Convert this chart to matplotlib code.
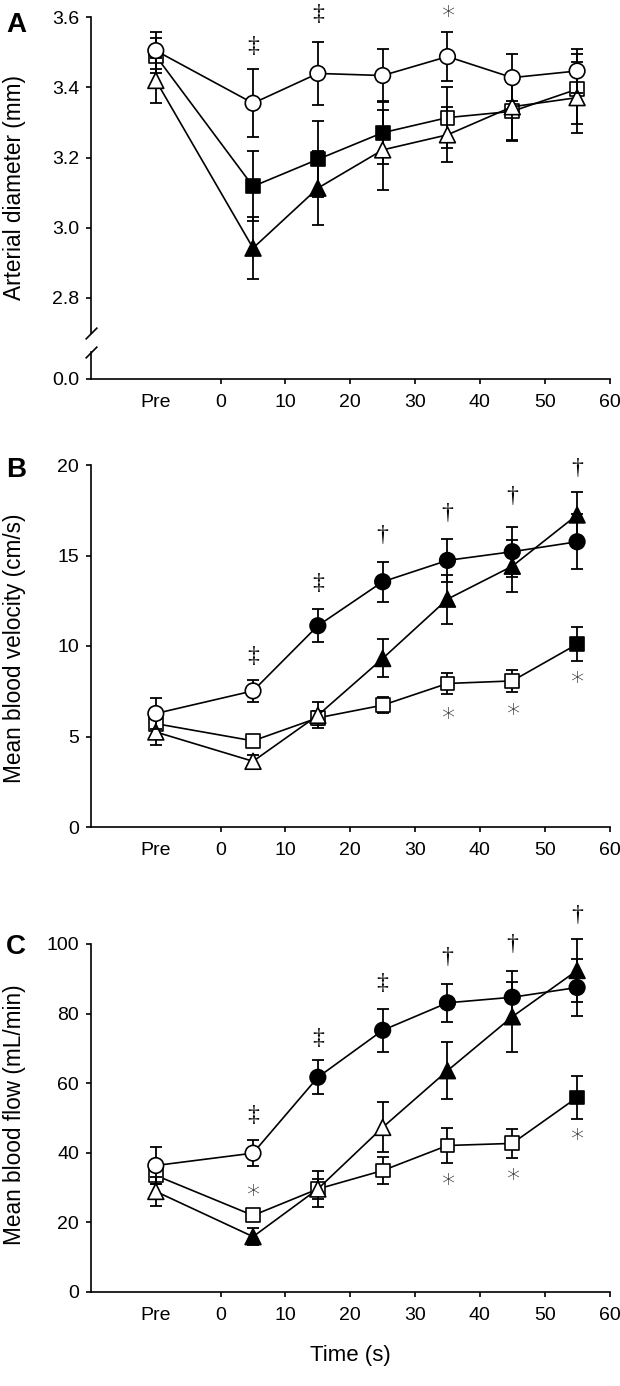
import matplotlib
matplotlib.use('Agg')
from matplotlib import pyplot as plt

plt.rcParams['font.family'] = ['Liberation Sans', 'DejaVu Sans']

# time points (Pre plotted at -10)
times = [-10, 5, 15, 25, 35, 45, 55]
tick_pos = [-10, 0, 10, 20, 30, 40, 50, 60]
tick_lab = ['Pre', '0', '10', '20', '30', '40', '50', '60']

# ---- A: arterial diameter (mm) ----
diam_circ = [3.505, 3.355, 3.44, 3.434, 3.488, 3.428, 3.447]
diam_circ_se = [0.052, 0.097, 0.09, 0.075, 0.07, 0.067, 0.063]
diam_circ_fill = [0, 0, 0, 0, 0, 0, 0]
diam_sq = [3.49, 3.118, 3.195, 3.271, 3.314, 3.332, 3.395]
diam_sq_se = [0.05, 0.1, 0.108, 0.09, 0.087, 0.085, 0.1]
diam_sq_fill = [0, 1, 1, 1, 0, 0, 0]
diam_tri = [3.42, 2.942, 3.113, 3.222, 3.265, 3.345, 3.371]
diam_tri_se = [0.065, 0.088, 0.105, 0.115, 0.078, 0.095, 0.102]
diam_tri_fill = [0, 1, 1, 0, 0, 0, 0]
diam_notes_x = [5, 15, 35]
diam_notes_y = [3.516, 3.607, 3.61]
diam_notes = ['‡', '‡', '*']

# ---- B: mean blood velocity (cm/s) ----
vel_circ = [6.27, 7.52, 11.12, 13.55, 14.73, 15.21, 15.76]
vel_circ_se = [0.86, 0.6, 0.9, 1.1, 1.2, 1.38, 1.53]
vel_circ_fill = [0, 0, 1, 1, 1, 1, 1]
vel_sq = [5.71, 4.76, 6.03, 6.73, 7.93, 8.07, 10.1]
vel_sq_se = [0.3, 0.2, 0.4, 0.45, 0.6, 0.6, 0.95]
vel_sq_fill = [0, 0, 0, 0, 0, 0, 1]
vel_tri = [5.25, 3.63, 6.17, 9.31, 12.59, 14.41, 17.24]
vel_tri_se = [0.7, 0.35, 0.72, 1.05, 1.35, 1.45, 1.25]
vel_tri_fill = [0, 0, 0, 1, 1, 1, 1]
vel_notes_x = [5, 15, 25, 35, 45, 55, 35, 45, 55]
vel_notes_y = [9.4, 13.46, 16.13, 17.33, 18.25, 19.8, 6.18, 6.41, 8.15]
vel_notes = ['‡', '‡', '†', '†', '†', '†', '*', '*', '*']

# ---- C: mean blood flow (mL/min) ----
flow_circ = [36.35, 39.9, 61.7, 75.2, 83.1, 84.7, 87.5]
flow_circ_se = [5.2, 3.7, 4.9, 6.2, 5.5, 7.5, 8.1]
flow_circ_fill = [0, 0, 1, 1, 1, 1, 1]
flow_sq = [33.5, 22.0, 29.6, 34.9, 42.1, 42.7, 55.9]
flow_sq_se = [2.5, 1.5, 3.0, 3.8, 4.9, 4.2, 6.1]
flow_sq_fill = [0, 0, 0, 0, 0, 0, 1]
flow_tri = [28.9, 15.9, 29.6, 47.3, 63.6, 79.1, 92.4]
flow_tri_se = [4.1, 2.5, 5.3, 7.2, 8.2, 10.0, 9.0]
flow_tri_fill = [0, 1, 0, 0, 1, 1, 1]
flow_notes_x = [5, 15, 25, 35, 45, 55, 5, 35, 45, 55]
flow_notes_y = [50.6, 72.8, 88.7, 96.0, 99.8, 108.2, 28.7, 31.8, 33.3, 44.6]
flow_notes = ['‡', '‡', '‡', '†', '†', '†', '*', '*', '*', '*']


def series(ax, y, se, fill, marker, size, z):
    ax.errorbar(times, y, yerr=se, fmt='none', ecolor='black', elinewidth=1.3,
                capsize=4.5, capthick=1.3, zorder=z, clip_on=False)
    ax.plot(times, y, '-', color='black', lw=1.2, zorder=z + 0.1, clip_on=False)
    cols = ['black' if f else 'white' for f in fill]
    ax.scatter(times, y, s=size, marker=marker, c=cols, edgecolors='black',
               linewidths=1.2, zorder=z + 0.2, clip_on=False)


def notes(ax, xs, ys, labs):
    for x, y, t in zip(xs, ys, labs):
        if t == '*':
            ax.annotate(t, (x, y), xytext=(0, -3), textcoords='offset points',
                        ha='center', va='center', fontsize=19, color='#222222',
                        family='DejaVu Sans', fontweight='light',
                        annotation_clip=False)
        else:
            ax.text(x, y, t, ha='center', va='center', fontsize=17,
                    family='Liberation Serif', clip_on=False)


def style(ax):
    for s in ['top', 'right']:
        ax.spines[s].set_visible(False)
    for s in ['left', 'bottom']:
        ax.spines[s].set_linewidth(1.2)
    ax.tick_params(direction='out', length=3.6, width=1.2, labelsize=14)
    ax.tick_params(axis='y', pad=5)
    ax.tick_params(axis='x', pad=7)


def xaxis(ax):
    ax.set_xlim(-20, 60)
    ax.set_xticks(tick_pos)
    ax.set_xticklabels(tick_lab)
    ax.xaxis.get_major_ticks()[0].tick1line.set_visible(False)


W, H = 620, 1386
fig = plt.figure(figsize=(6.2, 13.86), dpi=100)
L = 91 / W
Wd = (609.5 - 91) / W


def rect(top, bot):
    return [L, 1 - bot / H, Wd, (bot - top) / H]


# panel A (broken axis)
axA = fig.add_axes(rect(17.3, 333))
axA0 = fig.add_axes(rect(352, 379), sharex=axA)
series(axA, diam_sq, diam_sq_se, diam_sq_fill, 's', 100, 3)
series(axA, diam_tri, diam_tri_se, diam_tri_fill, '^', 130, 4)
series(axA, diam_circ, diam_circ_se, diam_circ_fill, 'o', 125, 5)
notes(axA, diam_notes_x, diam_notes_y, diam_notes)
axA.set_ylim(2.7, 3.6)
axA.set_yticks([2.8, 3.0, 3.2, 3.4, 3.6])
axA.set_yticklabels(['2.8', '3.0', '3.2', '3.4', '3.6'])
style(axA)
axA.spines['bottom'].set_visible(False)
axA.tick_params(axis='x', bottom=False, labelbottom=False)
axA0.set_ylim(0, 1)
axA0.set_yticks([0])
axA0.set_yticklabels(['0.0'])
style(axA0)
axA0.spines['top'].set_visible(False)
xaxis(axA0)
kw = dict(marker=[(-1, -1), (1, 1)], markersize=8.5, linestyle='none',
          color='black', mec='black', mew=1.2, clip_on=False)
axA.plot([0], [0], transform=axA.transAxes, **kw)
axA0.plot([0], [1], transform=axA0.transAxes, **kw)

# panel B
axB = fig.add_axes(rect(465, 827))
series(axB, vel_sq, vel_sq_se, vel_sq_fill, 's', 100, 3)
series(axB, vel_tri, vel_tri_se, vel_tri_fill, '^', 130, 4)
series(axB, vel_circ, vel_circ_se, vel_circ_fill, 'o', 125, 5)
notes(axB, vel_notes_x, vel_notes_y, vel_notes)
axB.set_ylim(0, 20)
axB.set_yticks([0, 5, 10, 15, 20])
style(axB)
xaxis(axB)

# panel C
axC = fig.add_axes(rect(944, 1292))
series(axC, flow_sq, flow_sq_se, flow_sq_fill, 's', 100, 3)
series(axC, flow_tri, flow_tri_se, flow_tri_fill, '^', 130, 4)
series(axC, flow_circ, flow_circ_se, flow_circ_fill, 'o', 125, 5)
notes(axC, flow_notes_x, flow_notes_y, flow_notes)
axC.set_ylim(0, 100)
axC.set_yticks([0, 20, 40, 60, 80, 100])
style(axC)
xaxis(axC)
axC.set_xlabel('Time (s)', fontsize=16, labelpad=15)

# y labels and panel letters
fig.text(15 / W, 1 - 188 / H, 'Arterial diameter (mm)', rotation=90,
         ha='center', va='center', fontsize=16.3)
fig.text(15 / W, 1 - 648 / H, 'Mean blood velocity (cm/s)', rotation=90,
         ha='center', va='center', fontsize=16.3)
fig.text(15 / W, 1 - 1115 / H, 'Mean blood flow (mL/min)', rotation=90,
         ha='center', va='center', fontsize=16.3)
for lab, yy in [('A', 25), ('B', 470), ('C', 947)]:
    fig.text(16 / W, 1 - yy / H, lab, ha='center', va='center',
             fontsize=20, fontweight='bold')

fig.savefig('out.png', dpi=100)
